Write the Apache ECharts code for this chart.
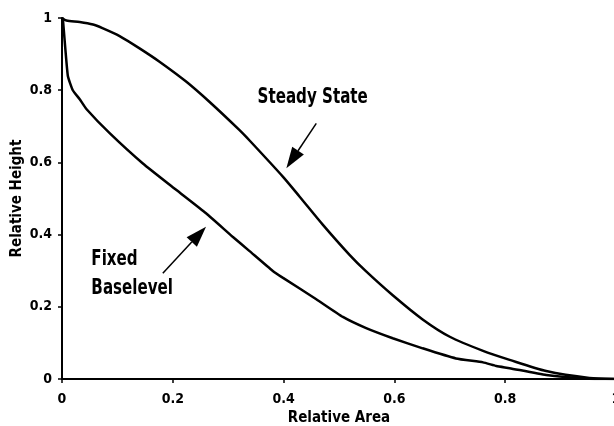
<!DOCTYPE html>
<html>
<head>
<meta charset="utf-8">
<style>
  html, body { margin: 0; padding: 0; background: #fff; }
  #chart { width: 614px; height: 426px; }
</style>
<script src="https://cdn.jsdelivr.net/npm/echarts@6/dist/echarts.min.js"></script>
</head>
<body>
<div id="chart"></div>
<script>
// Relative hypsometric profiles: height vs. drainage area
const xTicks = [0, 0.2, 0.4, 0.6, 0.8, 1];
const yTicks = [0, 0.2, 0.4, 0.6, 0.8, 1];

const steadyArea   = [0, 0.008, 0.032, 0.056, 0.073, 0.104, 0.14, 0.176, 0.224, 0.266, 0.32, 0.339, 0.399, 0.429, 0.471, 0.519, 0.549, 0.597, 0.651, 0.70, 0.76, 0.808, 0.874, 0.952, 1.0];
const steadyHeight = [1, 0.993, 0.989, 0.982, 0.972, 0.950, 0.916, 0.879, 0.824, 0.768, 0.690, 0.660, 0.560, 0.505, 0.427, 0.344, 0.298, 0.232, 0.165, 0.117, 0.078, 0.053, 0.022, 0.003, 0];

const fixedArea   = [0, 0.0015, 0.0105, 0.0195, 0.032, 0.044, 0.086, 0.146, 0.206, 0.26, 0.308, 0.338, 0.38, 0.399, 0.459, 0.507, 0.549, 0.597, 0.651, 0.711, 0.76, 0.784, 0.808, 0.874, 0.952, 1.0];
const fixedHeight = [1, 0.998, 0.84, 0.80, 0.775, 0.748, 0.681, 0.597, 0.524, 0.459, 0.394, 0.355, 0.300, 0.280, 0.221, 0.172, 0.141, 0.113, 0.085, 0.057, 0.046, 0.036, 0.030, 0.011, 0.001, 0];

// Callouts in data units: label anchor, arrow tail, arrow tip
const callouts = [
  { lines: ['Steady State'], at: [0.353, 0.78], from: [0.459, 0.708], to: [0.405, 0.584] },
  { lines: ['Fixed', 'Baselevel'], at: [0.053, 0.331], from: [0.182, 0.293], to: [0.26, 0.422] }
];

const FONT = "'DejaVu Sans Condensed', 'Liberation Sans Narrow', sans-serif";

const pairs = (xs, ys) => xs.map((x, i) => [x, ys[i]]);

const chart = echarts.init(document.getElementById('chart'), null, { renderer: 'canvas' });

const axisBase = {
  type: 'value',
  min: 0,
  max: 1,
  interval: 0.2,
  splitLine: { show: false },
  axisTick: { show: true, inside: false, length: 4, lineStyle: { color: '#000', width: 1.5 } },
  axisLabel: {
    fontFamily: FONT, fontWeight: 'bold', fontSize: 14, color: '#000',
    formatter: v => String(Math.round(v * 10) / 10)
  },
  nameTextStyle: { fontFamily: FONT, fontWeight: 'bold', fontSize: 15, color: '#000' }
};

chart.setOption({
  animation: false,
  backgroundColor: '#fff',
  grid: { left: 62, top: 18, width: 554, height: 361, containLabel: false, outerBoundsMode: 'none' },
  xAxis: [
    Object.assign({}, axisBase, {
      position: 'bottom',
      name: 'Relative Area',
      nameLocation: 'middle',
      nameGap: 32,
      nameMoveOverlap: false,
      axisLine: { show: true, onZero: false, lineStyle: { color: '#333', width: 2 } },
      axisLabel: Object.assign({}, axisBase.axisLabel, { margin: 13, showMaxLabel: true })
    }),
    {
      type: 'value', min: 0, max: 1, position: 'top',
      axisLine: { show: true, lineStyle: { color: '#000', width: 2 } },
      axisTick: { show: false }, axisLabel: { show: false }, splitLine: { show: false }
    }
  ],
  yAxis: Object.assign({}, axisBase, {
    name: 'Relative Height',
    nameLocation: 'middle',
    nameGap: 37,
    nameMoveOverlap: false,
    axisLine: { show: true, onZero: false, lineStyle: { color: '#000', width: 2 } },
    axisLabel: Object.assign({}, axisBase.axisLabel, { margin: 10 })
  }),
  series: [
    {
      name: 'Steady State', type: 'line', xAxisIndex: 0,
      data: pairs(steadyArea, steadyHeight),
      showSymbol: false, smooth: 0.25,
      lineStyle: { color: '#000', width: 2.5 }
    },
    {
      name: 'Fixed Baselevel', type: 'line', xAxisIndex: 0,
      data: pairs(fixedArea, fixedHeight),
      showSymbol: false, smooth: 0.15,
      lineStyle: { color: '#000', width: 2.5 }
    }
  ]
});

// Callout labels and arrows placed through the axis scales
function drawCallouts() {
  const els = [];
  callouts.forEach(c => {
    const p = chart.convertToPixel({ gridIndex: 0 }, c.at);
    c.lines.forEach((t, i) => {
      els.push({
        type: 'text', x: p[0], y: p[1] + i * 29, scaleX: 0.8,
        style: { text: t, fontFamily: FONT, fontWeight: 'bold', fontSize: 21, fill: '#000',
                 textAlign: 'left', textVerticalAlign: 'middle' }
      });
    });
    const a = chart.convertToPixel({ gridIndex: 0 }, c.from);
    const b = chart.convertToPixel({ gridIndex: 0 }, c.to);
    const dx = b[0] - a[0], dy = b[1] - a[1];
    const len = Math.hypot(dx, dy), ux = dx / len, uy = dy / len;
    const headL = 21, headW = 7;
    const base = [b[0] - ux * headL, b[1] - uy * headL];
    els.push({
      type: 'line',
      shape: { x1: a[0], y1: a[1], x2: base[0], y2: base[1] },
      style: { stroke: '#000', lineWidth: 1.5 }
    });
    els.push({
      type: 'polygon',
      shape: { points: [b, [base[0] - uy * headW, base[1] + ux * headW], [base[0] + uy * headW, base[1] - ux * headW]] },
      style: { fill: '#000' }
    });
  });
  chart.setOption({ graphic: els });
}
drawCallouts();
</script>
</body>
</html>
